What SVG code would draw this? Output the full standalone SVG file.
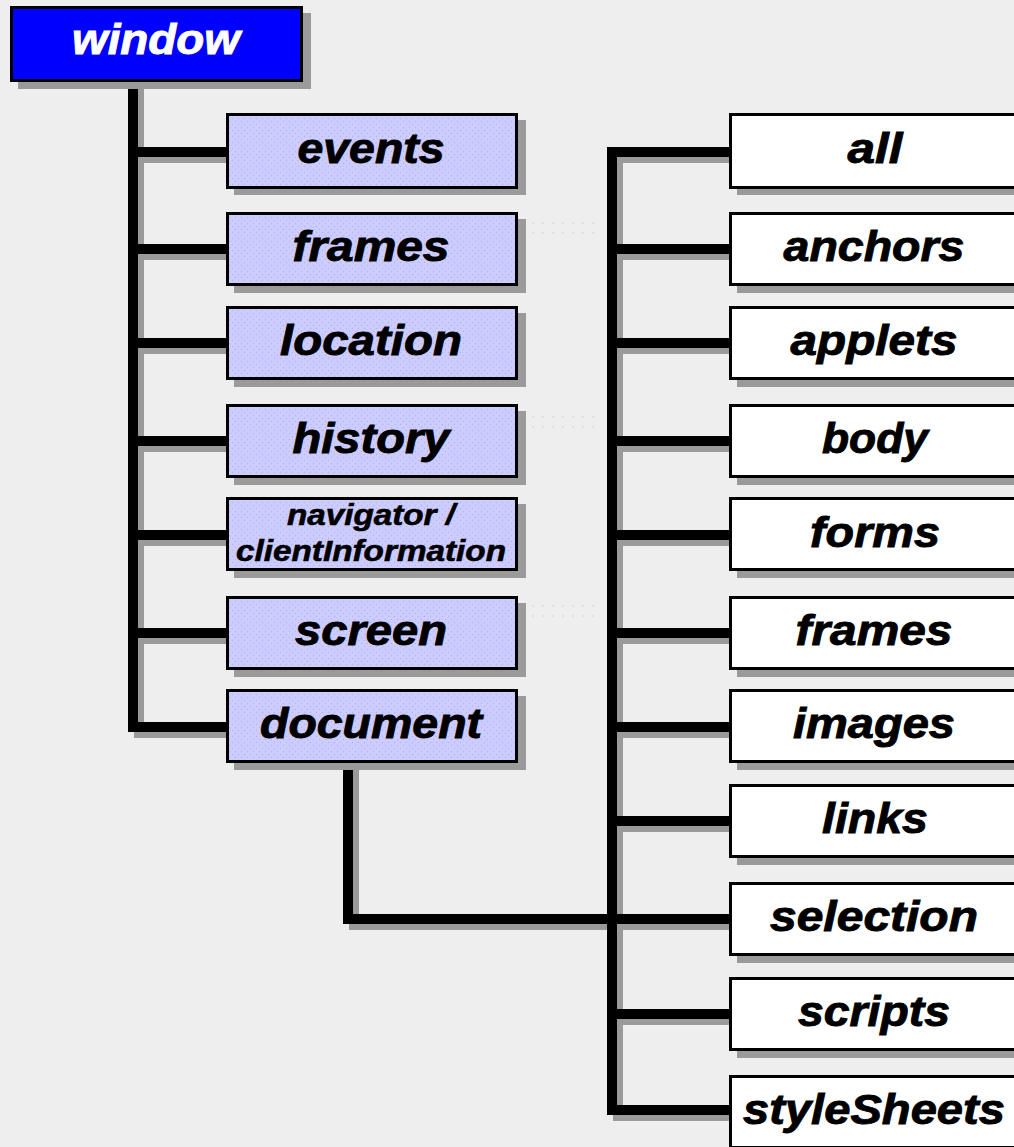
<svg xmlns="http://www.w3.org/2000/svg" width="1014" height="1147" viewBox="0 0 1014 1147">
<defs>
<pattern id="dots" width="6" height="6" patternUnits="userSpaceOnUse">
<rect width="6" height="6" fill="#ccccff"/>
<circle cx="1.5" cy="1.5" r="0.7" fill="#b4b4ec"/>
<circle cx="4.5" cy="4.5" r="0.7" fill="#b4b4ec"/>
</pattern>
<style>
.sh{fill:#9a9a9a}
.lb{fill:url(#dots);stroke:#000;stroke-width:3}
.wb{fill:#fff;stroke:#000;stroke-width:3}
.t{font-family:"Liberation Sans",Arial,Helvetica,sans-serif;font-weight:bold;font-style:italic;font-size:42px;text-anchor:middle;fill:#000;stroke:#000;stroke-width:0.9}
.ts{font-size:29px;stroke-width:0.6}
.ln{stroke:#000;stroke-width:10;fill:none;stroke-linecap:square}
.lns{stroke:#9a9a9a;stroke-width:10;fill:none;stroke-linecap:square}
.dt{stroke:#dedede;stroke-width:2;stroke-dasharray:2 8}
</style>
</defs>
<rect width="1014" height="1147" fill="#eeeeee"/>
<g id="faint">
<line class="dt" x1="532" y1="223" x2="600" y2="223"/><line class="dt" x1="532" y1="233" x2="600" y2="233"/>
<line class="dt" x1="532" y1="417" x2="600" y2="417"/><line class="dt" x1="532" y1="427" x2="600" y2="427"/>
<line class="dt" x1="532" y1="606" x2="600" y2="606"/><line class="dt" x1="532" y1="616" x2="600" y2="616"/>
</g>
<g id="connectors">
<g transform="translate(6,6)">
<path class="lns" d="M133 82V727M133 152H227M133 249H227M133 343H227M133 441H227M133 535H227M133 727H227M133 633H227"/>
<path class="lns" d="M612 152V1110M612 152H730M612 249H730M612 343H730M612 441H730M612 535H730M612 633H730M612 727H730M612 821H730M612 919H730M612 1014H730M612 1110H730"/>
<path class="lns" d="M348 762V919H612"/>
</g>
<path class="ln" d="M133 82V727M133 152H227M133 249H227M133 343H227M133 441H227M133 535H227M133 633H227M133 727H227"/>
<path class="ln" d="M612 152V1110M612 152H730M612 249H730M612 343H730M612 441H730M612 535H730M612 633H730M612 727H730M612 821H730M612 919H730M612 1014H730M612 1110H730"/>
<path class="ln" d="M348 762V919H612"/>
</g>
<g id="window">
<rect class="sh" x="18" y="13" width="293" height="76"/>
<rect x="11.5" y="7.5" width="290" height="73" fill="#0000ff" stroke="#000" stroke-width="3"/>
<text class="t" x="156" y="54" fill="#fff" style="fill:#fff;stroke:#fff" textLength="168" lengthAdjust="spacingAndGlyphs">window</text>
</g>
<g id="events"><rect class="sh" x="234" y="120" width="292" height="75"/><rect class="lb" x="227.5" y="114.5" width="289" height="73"/><text class="t" x="371" y="163" textLength="147" lengthAdjust="spacingAndGlyphs">events</text></g>
<g id="frames1"><rect class="sh" x="234" y="219" width="292" height="74"/><rect class="lb" x="227.5" y="213.5" width="289" height="71"/><text class="t" x="371" y="261" textLength="157" lengthAdjust="spacingAndGlyphs">frames</text></g>
<g id="location"><rect class="sh" x="234" y="313" width="292" height="74"/><rect class="lb" x="227.5" y="307.5" width="289" height="71"/><text class="t" x="371" y="355" textLength="182" lengthAdjust="spacingAndGlyphs">location</text></g>
<g id="history"><rect class="sh" x="234" y="411" width="292" height="74"/><rect class="lb" x="227.5" y="405.5" width="289" height="71"/><text class="t" x="371" y="453" textLength="157" lengthAdjust="spacingAndGlyphs">history</text></g>
<g id="navigator"><rect class="sh" x="234" y="504" width="292" height="74"/><rect class="lb" x="227.5" y="498.5" width="289" height="71"/><text class="t ts" x="371" y="525" textLength="168" lengthAdjust="spacingAndGlyphs">navigator /</text><text class="t ts" x="371" y="561" textLength="270" lengthAdjust="spacingAndGlyphs">clientInformation</text></g>
<g id="screen"><rect class="sh" x="234" y="603" width="292" height="74"/><rect class="lb" x="227.5" y="597.5" width="289" height="71"/><text class="t" x="371" y="645" textLength="152" lengthAdjust="spacingAndGlyphs">screen</text></g>
<g id="document"><rect class="sh" x="234" y="696" width="292" height="74"/><rect class="lb" x="227.5" y="690.5" width="289" height="71"/><text class="t" x="371" y="738" textLength="222" lengthAdjust="spacingAndGlyphs">document</text></g>
<g id="all"><rect class="sh" x="737" y="120" width="292" height="75"/><rect class="wb" x="730.5" y="114.5" width="300" height="73"/><text class="t" x="875" y="163" textLength="55" lengthAdjust="spacingAndGlyphs">all</text></g>
<g id="anchors"><rect class="sh" x="737" y="219" width="292" height="74"/><rect class="wb" x="730.5" y="213.5" width="300" height="71"/><text class="t" x="874" y="261" textLength="181" lengthAdjust="spacingAndGlyphs">anchors</text></g>
<g id="applets"><rect class="sh" x="737" y="313" width="292" height="74"/><rect class="wb" x="730.5" y="307.5" width="300" height="71"/><text class="t" x="874" y="355" textLength="167" lengthAdjust="spacingAndGlyphs">applets</text></g>
<g id="body"><rect class="sh" x="737" y="411" width="292" height="74"/><rect class="wb" x="730.5" y="405.5" width="300" height="71"/><text class="t" x="875" y="453" textLength="106" lengthAdjust="spacingAndGlyphs">body</text></g>
<g id="forms"><rect class="sh" x="737" y="504" width="292" height="74"/><rect class="wb" x="730.5" y="498.5" width="300" height="71"/><text class="t" x="875" y="547" textLength="130" lengthAdjust="spacingAndGlyphs">forms</text></g>
<g id="frames2"><rect class="sh" x="737" y="603" width="292" height="74"/><rect class="wb" x="730.5" y="597.5" width="300" height="71"/><text class="t" x="874" y="645" textLength="157" lengthAdjust="spacingAndGlyphs">frames</text></g>
<g id="images"><rect class="sh" x="737" y="696" width="292" height="74"/><rect class="wb" x="730.5" y="690.5" width="300" height="71"/><text class="t" x="874" y="738" textLength="162" lengthAdjust="spacingAndGlyphs">images</text></g>
<g id="links"><rect class="sh" x="737" y="791" width="292" height="74"/><rect class="wb" x="730.5" y="785.5" width="300" height="71"/><text class="t" x="875" y="833" textLength="106" lengthAdjust="spacingAndGlyphs">links</text></g>
<g id="selection"><rect class="sh" x="737" y="889" width="292" height="74"/><rect class="wb" x="730.5" y="883.5" width="300" height="71"/><text class="t" x="874" y="931" textLength="208" lengthAdjust="spacingAndGlyphs">selection</text></g>
<g id="scripts"><rect class="sh" x="737" y="984" width="292" height="74"/><rect class="wb" x="730.5" y="978.5" width="300" height="71"/><text class="t" x="874" y="1026" textLength="152" lengthAdjust="spacingAndGlyphs">scripts</text></g>
<g id="styleSheets"><rect class="sh" x="737" y="1082" width="292" height="74"/><rect class="wb" x="730.5" y="1076.5" width="300" height="71"/><text class="t" x="874" y="1124" textLength="262" lengthAdjust="spacingAndGlyphs">styleSheets</text></g>
</svg>
